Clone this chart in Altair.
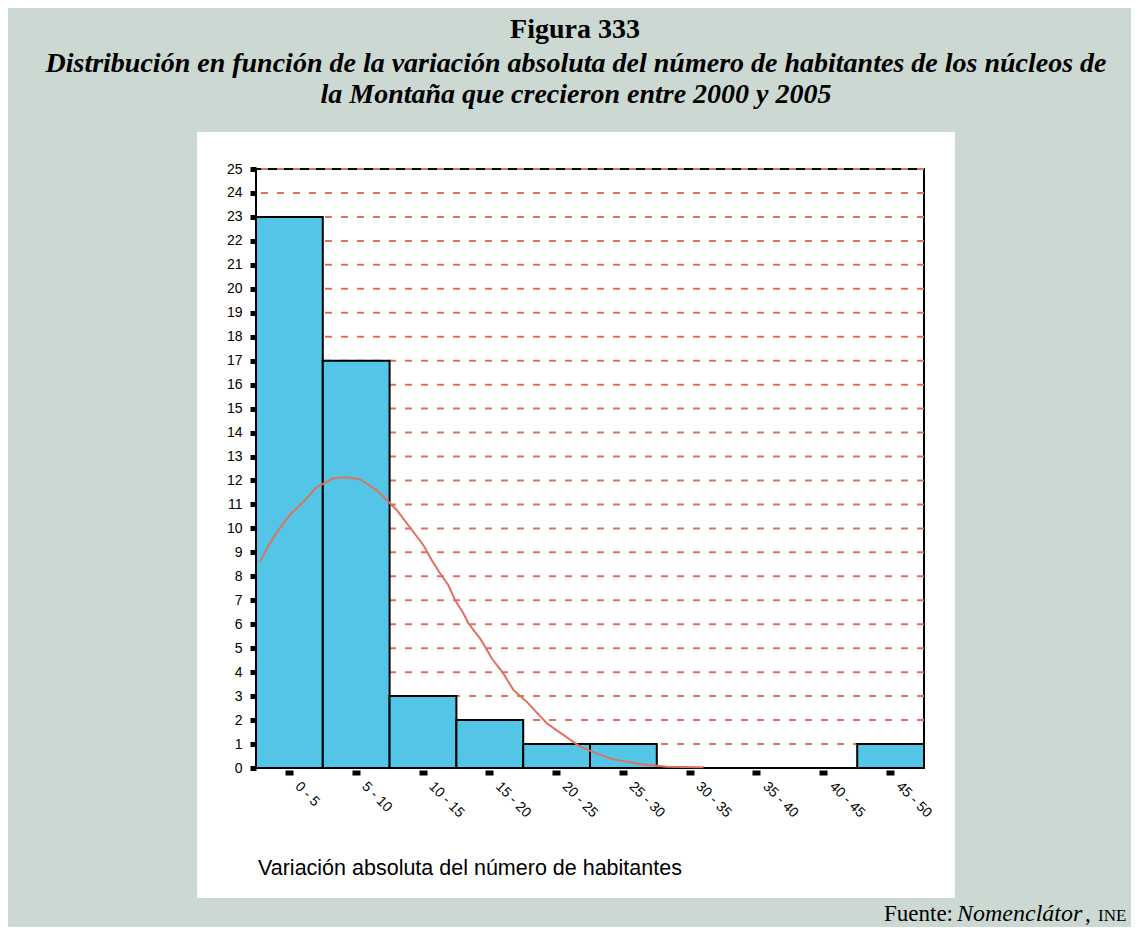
import altair as alt
import pandas as pd

# ---- data ----
bin_labels = ["0 - 5", "5 - 10", "10 - 15", "15 - 20", "20 - 25",
              "25 - 30", "30 - 35", "35 - 40", "40 - 45", "45 - 50"]
counts = [23, 17, 3, 2, 1, 1, 0, 0, 0, 1]

curve_x = [0.30, 0.92, 1.67, 2.54, 3.54, 4.54, 5.79, 6.79, 7.78, 9.03, 10.03,
           10.53, 11.77, 12.52, 13.15, 13.77, 14.39, 14.90, 15.52, 15.89, 16.77,
           17.01, 17.64, 18.51, 19.26, 20.26, 21.76, 23.00, 24.25, 25.50, 26.75,
           28.74, 30.74, 33.48]
curve_y = [8.61, 9.27, 9.93, 10.56, 11.11, 11.72, 12.09, 12.13, 12.05, 11.60, 11.05,
           10.77, 9.86, 9.31, 8.68, 8.13, 7.64, 7.01, 6.46, 6.04, 5.41,
           5.20, 4.58, 3.95, 3.26, 2.77, 1.87, 1.38, 0.89, 0.61, 0.36,
           0.17, 0.05, 0.03]

y_ticks = list(range(0, 26))
grid_vals = list(range(1, 26))

fig_title = "Figura 333"
sub_line1 = "Distribución en función de la variación absoluta del número de habitantes de los núcleos de"
sub_line2 = "la Montaña que crecieron entre 2000 y 2005"
x_title = "Variación absoluta del número de habitantes"
src_a = "Fuente:"
src_b = "Nomenclátor"
src_c = ","
src_d = "INE"

# ---- styling ----
BG = "#cbd9d2"
BAR = "#53c5e7"
RED = "#e0705f"
W, H = 668, 599

bars_df = pd.DataFrame({"bin": bin_labels, "count": counts})
curve_df = pd.DataFrame({"x": curve_x, "y": curve_y})
grid_df = pd.DataFrame({"g": grid_vals})
one = pd.DataFrame({"k": [0]})

yscale = alt.Scale(domain=[0, 25], nice=False, zero=True)
yaxis = alt.Axis(title=None, values=y_ticks, domain=False, tickSize=6,
                 tickWidth=5, tickColor="black", labelPadding=8,
                 labelFont="Liberation Sans", labelFontSize=14,
                 labelColor="black", zindex=1, grid=False)

panel = alt.Chart(one).mark_rect(fill="white").encode(
    x=alt.value(-59), x2=alt.value(699), y=alt.value(-37), y2=alt.value(729)
)

border = alt.Chart(one).mark_rect(fillOpacity=0, stroke="black", strokeWidth=2).encode(
    x=alt.value(0), x2=alt.value(W), y=alt.value(0), y2=alt.value(H)
)

grid = alt.Chart(grid_df).mark_rule(color=RED, strokeWidth=2, strokeDash=[7, 9]).encode(
    y=alt.Y("g:Q", scale=yscale, axis=yaxis)
)

bars = alt.Chart(bars_df).mark_bar(fill=BAR, stroke="black", strokeWidth=2).encode(
    x=alt.X("bin:N", sort=bin_labels,
            scale=alt.Scale(paddingInner=0, paddingOuter=0),
            axis=alt.Axis(title=None, domain=False, offset=2, tickSize=5, tickWidth=8,
                          tickColor="black", labelAngle=45, labelAlign="left",
                          labelBaseline="middle", labelPadding=9, labelOffset=8,
                          labelFont="Liberation Sans", labelFontSize=14,
                          labelColor="black", zindex=1, grid=False)),
    y=alt.Y("count:Q", scale=yscale, axis=yaxis),
)

curve = alt.Chart(curve_df).mark_line(color=RED, strokeWidth=2).encode(
    x=alt.X("x:Q", scale=alt.Scale(domain=[0, 50], nice=False), axis=None),
    y=alt.Y("y:Q", scale=yscale, axis=yaxis),
)


def txt(s, x, y, size, font="Liberation Serif", weight="normal", style="normal",
        align="left"):
    d = pd.DataFrame({"t": [s]})
    return alt.Chart(d).mark_text(font=font, fontSize=size, fontWeight=weight,
                                  fontStyle=style, align=align, baseline="alphabetic",
                                  color="black").encode(
        text="t:N", x=alt.value(x), y=alt.value(y))


texts = [
    txt(fig_title, 319, -131, 28, weight="bold", align="center"),
    txt(sub_line1, 320, -97, 28, weight="bold", style="italic", align="center"),
    txt(sub_line2, 320, -66, 28, weight="bold", style="italic", align="center"),
    txt(x_title, 2, 706, 21.5, font="Liberation Sans"),
    txt(src_a, 628, 752, 23),
    txt(src_b, 701, 752, 24, style="italic"),
    txt(src_c, 829, 752, 23),
    txt(src_d, 842, 752, 17),
]

chart = alt.layer(panel, border, grid, bars, curve, *texts).resolve_scale(
    x="independent"
).properties(
    width=W, height=H,
    padding={"left": 248, "top": 161, "right": 207, "bottom": 159},
    autosize=alt.AutoSizeParams(type="none"),
    background=BG,
).configure_view(stroke=None)

chart.save("out.html", embed_options={"renderer": "svg", "actions": False})
